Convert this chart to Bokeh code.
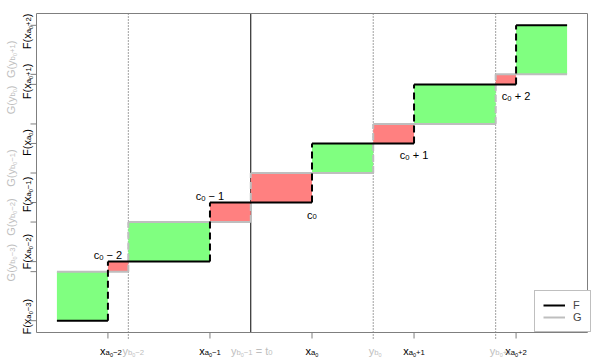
import math
from bokeh.plotting import figure
from bokeh.models import Range1d, Label, Legend, LegendItem
from bokeh.embed import file_html
from bokeh.resources import INLINE

# ---------------- data ----------------
xa = [-2.0, -1.0, 0.0, 1.0, 2.0]          # x_{a0-2} .. x_{a0+2}
xa_idx = [-2, -1, 0, 1, 2]
yb = [-1.8, -0.6, 0.6, 1.8]               # y_{b0-2} .. y_{b0+1}
yb_idx = [-2, -1, 0, 1]
t0_pos = 1                                 # yb[1] = y_{b0-1} = t0
x_first, x_last = -2.5, 2.5
F_vals = [0.0, 1.0, 2.0, 3.0, 4.0, 5.0]   # F(x_{a0-3}) .. F(x_{a0+2})
F_idx = [-3, -2, -1, 0, 1, 2]
G_vals = [0.83, 1.67, 2.5, 3.33, 4.17]    # G(y_{b0-3}) .. G(y_{b0+1})
G_idx = [-3, -2, -1, 0, 1]
rect_kind = ["g", "r", "g", "r", "r", "g", "r", "g", "r", "g"]
c_idx = [-2, -1, 0, 1, 2]

# label fine placement (pixels, down-positive)
F_lab_shift = [-4, -10, -8, -1, -3, 6]
G_lab_shift = [-9, -5, -5, -24, -15]
xa_lab_shift = [3, 0, 0, 0, 0]
yb_lab_shift = [5, 1, 2, 5]

GREEN, RED = "#80FF80", "#FF8080"
GRAY = "#BEBEBE"
BOX = "#7F7F7F"
FONT = "Liberation Sans"
B, S, SS = 11.0, 7.7, 5.5
DS, DSS = 2.0, 4.0

# plot box in data units and in canvas pixels
X0, X1 = -2.7, 2.7
Y0, Y1 = -0.2, 5.2
W, H = 601, 360
BL, BR, BT, BB = 36, 587, 13, 332
kx = (BR - BL) / (X1 - X0)
ky = (BB - BT) / (Y1 - Y0)
XC0, XC1 = X0 - BL / kx, X1 + (W - BR) / kx
YC0, YC1 = Y0 - (H - BB) / ky, Y1 + BT / ky
TICK = 6

p = figure(width=W, height=H, x_range=Range1d(XC0, XC1), y_range=Range1d(YC0, YC1),
           output_backend="svg", toolbar_location=None,
           x_axis_location=None, y_axis_location=None, min_border=0)
p.background_fill_color = "white"
p.border_fill_color = "white"
p.grid.visible = False
p.outline_line_color = None

# vertical reference lines (dotted ones reach out as ticks)
dot_x = [v for i, v in enumerate(yb) if i != t0_pos]
p.segment(x0=dot_x, x1=dot_x, y0=[Y0 - TICK / ky] * len(dot_x), y1=[Y1] * len(dot_x),
          line_color="#444444", line_width=1, line_dash="1 2")
p.segment(x0=[yb[t0_pos]], x1=[yb[t0_pos]], y0=[Y0], y1=[Y1], line_color="black", line_width=1)

# step helpers
Fx0 = [x_first] + xa
Fx1 = xa + [x_last]
Gx0 = [x_first] + yb
Gx1 = yb + [x_last]


def step_val(x, starts, vals):
    v = vals[0]
    for s, val in zip(starts, vals):
        if x >= s - 1e-9:
            v = val
    return v


bps = sorted([x_first] + xa + yb + [x_last])
rl, rr, rb, rt, rc = [], [], [], [], []
for k in range(len(bps) - 1):
    a, b = bps[k], bps[k + 1]
    fv = step_val(a, Fx0, F_vals)
    gv = step_val(a, Gx0, G_vals)
    rl.append(a); rr.append(b)
    rb.append(min(fv, gv)); rt.append(max(fv, gv))
    rc.append(GREEN if rect_kind[k] == "g" else RED)
p.quad(left=rl, right=rr, bottom=rb, top=rt, fill_color=rc, line_color=None)

# G step
g_h = p.segment(x0=Gx0, x1=Gx1, y0=G_vals, y1=G_vals, line_color=GRAY, line_width=2)
p.segment(x0=yb, x1=yb, y0=G_vals[:-1], y1=G_vals[1:], line_color=GRAY,
          line_width=2, line_dash="7 4")
# F step
f_h = p.segment(x0=Fx0, x1=Fx1, y0=F_vals, y1=F_vals, line_color="black", line_width=2)
p.segment(x0=xa, x1=xa, y0=F_vals[:-1], y1=F_vals[1:], line_color="black",
          line_width=2, line_dash="7 4")

# box and ticks
p.quad(left=[X0], right=[X1], bottom=[Y0], top=[Y1], fill_color=None,
       line_color=BOX, line_width=1)
p.segment(x0=xa, x1=xa, y0=[Y0 - TICK / ky] * len(xa), y1=[Y0] * len(xa),
          line_color=BOX, line_width=1)
yt = F_vals + G_vals
p.segment(x0=[X0 - TICK / kx] * len(yt), x1=[X0] * len(yt), y0=yt, y1=yt,
          line_color=BOX, line_width=1)

LEG_W, LEG_H = 53, 40
legend = Legend(items=[LegendItem(label="F", renderers=[f_h]),
                       LegendItem(label="G", renderers=[g_h])],
                location=(BR - LEG_W, H - BB), margin=0, padding=8, spacing=0,
                glyph_width=22, glyph_height=12, label_height=12, label_width=7,
                label_standoff=8, label_text_font=FONT, label_text_font_size="11px",
                border_line_color=BOX, border_line_width=1, background_fill_alpha=1)
p.add_layout(legend)

# ---------------- math-like labels ----------------
CW = {'x': .5, 'y': .5, 'a': .556, 'b': .556, 'c': .5, 't': .278, 'F': .611, 'G': .778,
      '(': .333, ')': .333, '−': .584, '+': .584, '=': .584, ' ': .278}


def tw(t, s):
    return sum(CW.get(ch, .556) for ch in t) * s


def sub_parts(letter, idx):
    parts = [(letter, S, DS), ("0", SS, DSS)]
    if idx != 0:
        parts.append((("−" if idx < 0 else "+") + str(abs(idx)), S, DS))
    return parts


def place(parts, x, y, dx, dy, color, vertical=False):
    total = sum(tw(t, s) for t, s, _ in parts)
    cum = 0.0
    for t, s, sh in parts:
        lead = tw(t[:len(t) - len(t.lstrip())], s)
        txt = t.strip()
        pos = cum + lead
        if vertical:
            ox, oy = dx + sh, dy + total / 2 - pos
        else:
            ox, oy = dx - total / 2 + pos, dy + sh
        p.add_layout(Label(x=x, y=y, x_offset=ox, y_offset=-oy, text=txt,
                           text_font=FONT, text_font_size=f"{s}px", text_color=color,
                           text_align="left", text_baseline="alphabetic",
                           angle=(math.pi / 2 if vertical else 0.0)))
        cum += tw(t, s)


# bottom labels
for v, i, sh in zip(xa, xa_idx, xa_lab_shift):
    place([("x", B, 0)] + sub_parts("a", i), v, Y0, sh, 18, "black")
for k, (v, i, sh) in enumerate(zip(yb, yb_idx, yb_lab_shift)):
    parts = [("y", B, 0)] + sub_parts("b", i)
    if k == t0_pos:
        parts += [(" =", B, 0), (" t", B, 0), ("0", S, DS)]
    place(parts, v, Y0, sh, 18, GRAY)

# left labels (rotated)
for v, i, sh in zip(F_vals, F_idx, F_lab_shift):
    place([("F(x", B, 0)] + sub_parts("a", i) + [(")", B, 0)], X0, v, -10, sh, "black", True)
for v, i, sh in zip(G_vals, G_idx, G_lab_shift):
    place([("G(y", B, 0)] + sub_parts("b", i) + [(")", B, 0)], X0, v, -26, sh, GRAY, True)

# c labels
for k, i in enumerate(c_idx):
    parts = [("c", B, 0), ("0", S, DS)]
    if i != 0:
        parts += [(" −" if i < 0 else " +", B, 0), (" " + str(abs(i)), B, 0)]
    if i < 0:
        place(parts, xa[k], F_vals[k + 1], 0, -6.5, "black")
    else:
        place(parts, xa[k], F_vals[k], 0, 12, "black")

open("out.html", "w").write(file_html(p, INLINE))
